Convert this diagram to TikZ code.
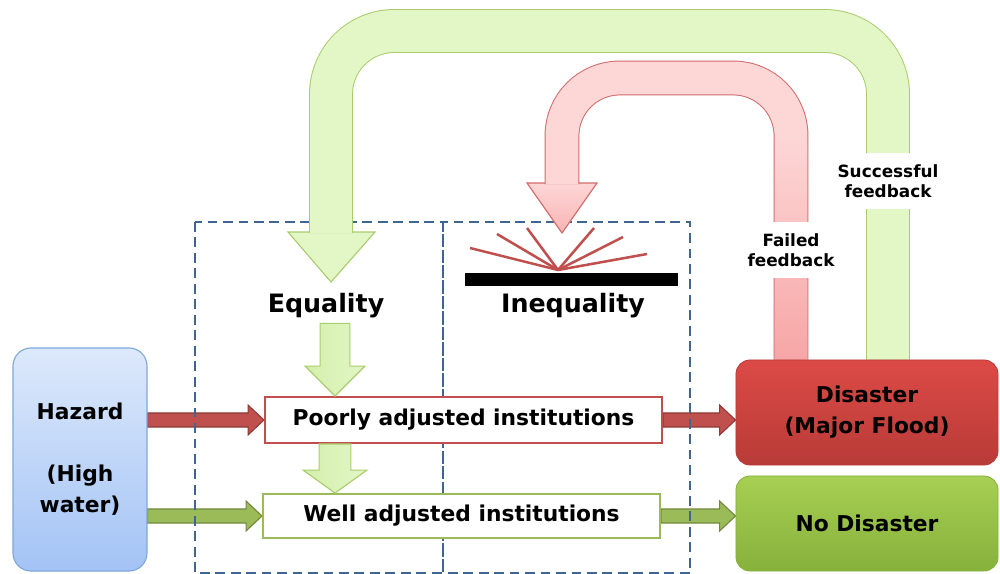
\documentclass[tikz,border=0pt]{standalone}
\usepackage{fontspec}
\setmainfont{DejaVu Sans}
\usetikzlibrary{calc,backgrounds}

\definecolor{hazardtop}{HTML}{DDE9FB}
\definecolor{hazardbot}{HTML}{A3C3F5}
\definecolor{hazardline}{HTML}{7FA8DA}
\definecolor{frame}{HTML}{3F6592}
\definecolor{poorred}{HTML}{C0504D}
\definecolor{poordark}{HTML}{8E3B39}
\definecolor{wellgreen}{HTML}{9BBB59}
\definecolor{welldark}{HTML}{71893F}
\definecolor{distop}{HTML}{DC4A46}
\definecolor{disbot}{HTML}{B83B37}
\definecolor{nodistop}{HTML}{A7CF53}
\definecolor{nodisbot}{HTML}{86B13B}
\definecolor{lightgreen}{HTML}{E3F6C6}
\definecolor{lightgreenleft}{HTML}{D3EFAB}
\definecolor{lightgreenline}{HTML}{A9CD6E}
\definecolor{lightred}{HTML}{FDD6D6}
\definecolor{lightredbot}{HTML}{F7A6A6}
\definecolor{lightredline}{HTML}{D26A6A}

\tikzset{
  hblock/.style n args={3}{to path={let \p1=(\tikztostart), \p2=(\tikztotarget) in
      (\x1,\y1+#1) -- (\x2-#3,\y1+#1) -- (\x2-#3,\y1+#2) -- (\x2,\y1)
      -- (\x2-#3,\y1-#2) -- (\x2-#3,\y1-#1) -- (\x1,\y1-#1) -- cycle}},
  vblock/.style n args={3}{to path={let \p1=(\tikztostart), \p2=(\tikztotarget) in
      (\x1+#1,\y1) -- (\x1+#1,\y2+#3) -- (\x1+#2,\y2+#3) -- (\x1,\y2)
      -- (\x1-#2,\y2+#3) -- (\x1-#1,\y2+#3) -- (\x1-#1,\y1) -- cycle}}
}

\begin{document}
\begin{tikzpicture}[x=0.025cm, y=-0.025cm,
    hazardbox/.style={draw=hazardline, line width=0.8pt, rounded corners=0.45cm,
      top color=hazardtop, bottom color=hazardbot, minimum width=3.35cm,
      minimum height=5.575cm, align=center, font=\fontsize{15.5}{22}\selectfont\bfseries},
    institution/.style={draw=#1, line width=1.4pt, fill=white, minimum width=9.925cm,
      align=center, font=\fontsize{15.5}{19}\selectfont\bfseries},
    outcome/.style={rounded corners=0.35cm, line width=0.6pt, minimum width=6.55cm,
      align=center, font=\fontsize{15.5}{22}\selectfont\bfseries},
    heading/.style={font=\fontsize{18}{20}\selectfont\bfseries},
    feedback/.style={fill=white, align=center, inner xsep=2pt, inner ysep=8pt,
      font=\fontsize{12}{14.5}\selectfont\bfseries},
    column/.style={draw=frame, line width=1.4pt, dash pattern=on 7pt off 4pt},
    redblock/.style={draw=poordark, line width=0.8pt, fill=poorred,
      hblock={5pt}{10.6pt}{11.3pt}},
    greenblock/.style={draw=welldark, line width=0.8pt, fill=wellgreen,
      hblock={5pt}{10.6pt}{11.3pt}},
    lgblock/.style={draw=lightgreenline, line width=0.8pt,
      left color=lightgreenleft, right color=lightgreen},
    gshaft/.style={draw=lightgreen, line width=29.8pt, rounded corners=45pt,
      preaction={draw=lightgreenline, line width=31.2pt}},
    rshaft/.style={draw=lightred, line width=23.4pt, rounded corners=41pt,
      preaction={draw=lightredline, line width=24.8pt}},
    ray/.style={draw=poorred, line width=1.8pt}]

   \useasboundingbox (0,0) rectangle (1000,573);

   \node[hazardbox] (haz) at (80,459.5) {Hazard\\[22pt](High\\water)};
   \node[institution=poorred, minimum height=1.15cm] (poor) at (463.5,420) {Poorly adjusted institutions};
   \node[institution=wellgreen, minimum height=1.1cm] (well) at (461.5,516) {Well adjusted institutions};
   \node[outcome, draw=disbot, top color=distop, bottom color=disbot,
     minimum height=2.625cm] (dis) at (867,412.5) {Disaster\\(Major Flood)};
   \node[outcome, draw=nodisbot, top color=nodistop, bottom color=nodisbot,
     minimum height=2.375cm] (nodis) at (867,523.5) {No Disaster};

   \node[heading] (eq) at (326,306) {Equality};
   \node[heading] (ineq) at (573,306) {Inequality};
   \node[fill=black, inner sep=0pt, minimum width=5.325cm, minimum height=0.325cm] (bar) at (571.5,279.5) {};
   \coordinate (hit) at (558,270);

   \node[feedback] (ffb) at (791,250) {Failed\\feedback};
   \node[feedback] (sfb) at (888,181) {Successful\\feedback};

   \coordinate (gtip) at (331,282);
   \coordinate (rtip) at (562,233);
   \coordinate (eqx) at (335,0);

   \foreach \rx/\ry in {470/248, 497/234, 527/228, 594/228, 623/237, 647/254}
     \draw[ray] (hit) -- (\rx,\ry);

   \draw[lgblock, vblock={10.6pt}{21.3pt}{21.3pt}] (eq.south -| eqx) to (poor.north -| eqx);
   \draw[lgblock, vblock={11.3pt}{22.7pt}{16.3pt}] (poor.south -| eqx) to (well.north -| eqx);

   \begin{scope}[on background layer]
   \draw[redblock] (haz.east |- poor) to (poor.west);
   \draw[redblock] (poor.east) to (dis.west |- poor);
   \draw[greenblock] (haz.east |- well) to (well.west);
   \draw[greenblock] (well.east) to (nodis.west |- well);

   \draw[column] (195,222) rectangle (443,573);
   \draw[column] (443,222) rectangle (690,573);

   \draw[fill=lightgreen, draw=lightgreenline, line width=0.8pt]
     ($(gtip)+(-43,-50)$) -- ($(gtip)+(44,-50)$) -- (gtip) -- cycle;
   \draw[gshaft] (dis.north -| sfb) |- ($(gtip)+(0,-251)$) -- ($(gtip)+(0,-49)$);

   \draw[top color=lightred, bottom color=lightredbot!70!lightred, draw=lightredline, line width=0.8pt]
     ($(rtip)+(-35,-50)$) -- ($(rtip)+(35,-50)$) -- (rtip) -- cycle;
   \draw[rshaft] (dis.north -| ffb) |- ($(rtip)+(0,-155)$) -- ($(rtip)+(0,-49)$);
   \shade[top color=lightred, bottom color=lightredbot]
     ($(dis.north -| ffb)+(-16,0)$) rectangle ($(ffb)+(16,-113)$);
   \end{scope}

 \end{tikzpicture}
\end{document}
